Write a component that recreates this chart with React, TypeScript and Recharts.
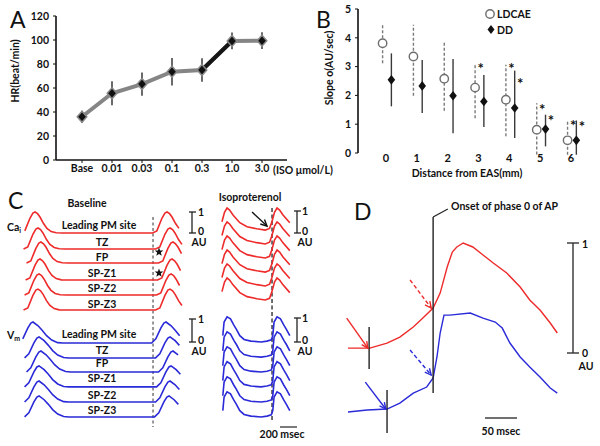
import React from 'react';
import { LineChart, Line, XAxis, YAxis, ErrorBar, ScatterChart, Scatter, ReferenceLine } from 'recharts';

const FONT = "Lato, 'Open Sans', sans-serif";
const RED = '#ee2a2a';
const BLUE = '#2a2ad8';

// ---------- Panel A ----------
const doseLabels = ['Base', '0.01', '0.03', '0.1', '0.3', '1.0', '3.0'];
const hrMean = [36, 55.6, 63.3, 73.6, 75, 99.2, 99.4];
const hrErr = [5, 10, 9.7, 11.5, 9.7, 7, 7];
const hrHighlight = ['0.3', '1.0'];
const hrTicks = [0, 20, 40, 60, 80, 100, 120];

// ---------- Panel B ----------
const distances = [0, 1, 2, 3, 4, 5, 6];
const ldcaeMean = [3.81, 3.35, 2.58, 2.27, 1.85, 0.81, 0.44];
const ldcaeHi = [4.45, 4.45, 3.87, 3.06, 3.06, 1.73, 1.1];
const ldcaeLo = [3.12, 1.99, 1.47, 1.21, 0.58, -0.05, -0.06];
const ddMean = [2.54, 2.33, 1.99, 1.79, 1.56, 0.83, 0.44];
const ddHi = [3.46, 3.23, 3.26, 2.71, 2.86, 1.33, 1.13];
const ddLo = [1.62, 1.39, 0.69, 0.9, 0.52, 0.23, -0.06];
const ldcaeStars = [[3, 3.0], [4, 3.0], [5, 1.56], [6, 1.0]];
const ddStars = [[4, 2.47], [5, 1.18], [6, 0.97]];
const slopeTicks = [0, 1, 2, 3, 4, 5];

// ---------- Panel C (time in ms, amplitude in AU) ----------
const caShape = [[-170, 0], [-120, 0.1], [-60, 0.7], [-25, 0.95], [0, 1], [30, 0.92], [60, 0.75], [100, 0.45], [140, 0.22], [190, 0.07], [250, 0.01], [320, 0]];
const vmShape = [[-170, 0], [-120, 0.2], [-60, 0.72], [-25, 0.95], [0, 1], [60, 0.82], [110, 0.6], [160, 0.35], [220, 0.14], [290, 0.02], [350, 0]];
const caIsoShape = [[-60, 0.4], [-30, 0.85], [0, 1.05], [30, 0.95], [70, 0.72], [150, 0.35], [235, 0.16], [350, 0.06], [450, 0], [500, 0.08]];
const vmIsoShape = [[-50, 0.3], [-35, 0.95], [0, 1.2], [40, 1.1], [80, 0.8], [110, 0.6], [150, 0.3], [200, 0.12], [280, 0.04], [400, 0], [470, 0.04], [520, 0.1]];
const caLeftBase = [9.62, 8.86, 8.19, 7.38, 6.67, 5.95];
const caLeftPeaks = [[412, 1965], [447, 2000], [482, 2035], [471, 2024], [459, 2012], [447, 2000]];
const vmLeftBase = [4.38, 3.67, 3.0, 2.29, 1.57, 0.86];
const vmLeftPeaks = [[388, 1953], [459, 2000], [482, 2035], [459, 2012], [459, 2000], [459, 1988]];
const caIsoBase = [9.76, 9.1, 8.43, 7.76, 7.1, 6.43];
const vmIsoBase = [4.43, 3.71, 3.0, 2.29, 1.57, 0.86];
const isoPeaks = [2671, 3259];
const leftWindow = [259, 2141];
const isoWindow = [2541, 3412];
const siteLabels = ['Leading PM site', 'TZ', 'FP', 'SP-Z1', 'SP-Z2', 'SP-Z3'];

// ---------- Panel D (time in ms, amplitude in AU) ----------
const dRedT = [75, 109, 136, 156, 177, 192, 208, 219, 230, 238, 245, 255, 270, 286, 302, 323, 344, 359, 375, 391, 402];
const dRedV = [0.045, 0.045, 0.09, 0.145, 0.236, 0.318, 0.409, 0.545, 0.782, 0.918, 0.964, 1.0, 0.964, 0.891, 0.818, 0.727, 0.6, 0.482, 0.391, 0.273, 0.182];
const dBlueT = [75, 105, 136, 156, 177, 198, 208, 214, 219, 225, 234, 266, 286, 305, 316, 328, 344, 359, 375, 391, 402];
const dBlueV = [-0.536, -0.518, -0.509, -0.455, -0.364, -0.309, -0.227, -0.036, 0.182, 0.345, 0.345, 0.364, 0.318, 0.282, 0.227, 0.091, -0.036, -0.127, -0.218, -0.318, -0.364];
const onsetT = 208;
const redFootT = 108;
const blueFootT = 136;

// ---------- derived tables ----------
const hrData = doseLabels.map((d, i) => ({
  dose: d,
  hr: hrMean[i],
  err: hrErr[i],
  seg: hrHighlight.includes(d) ? hrMean[i] : null,
}));
const ldcaeData = distances.map((x, i) => ({ x, y: ldcaeMean[i], e: [ldcaeMean[i] - ldcaeLo[i], ldcaeHi[i] - ldcaeMean[i]] }));
const ddData = distances.map((x, i) => ({ x, y: ddMean[i], e: [ddMean[i] - ddLo[i], ddHi[i] - ddMean[i]] }));
const ldcaeStarData = ldcaeStars.map(([x, y]) => ({ x, y }));
const ddStarData = ddStars.map(([x, y]) => ({ x, y }));
const tickAnchor = distances.map((x) => ({ x, y: 0 }));

const build = (shape: number[][], peaks: number[], base: number, win: number[]) =>
  peaks.flatMap((p) => shape.filter(([dt]) => p + dt >= win[0] && p + dt <= win[1]).map(([dt, a]) => ({ t: p + dt, v: base + a })));

const tracesC = [
  ...caLeftPeaks.map((pk, i) => ({ id: 'caL' + i, color: RED, pts: build(caShape, pk, caLeftBase[i], leftWindow) })),
  ...vmLeftPeaks.map((pk, i) => ({ id: 'vmL' + i, color: BLUE, pts: build(vmShape, pk, vmLeftBase[i], leftWindow) })),
  ...caIsoBase.map((b, i) => ({ id: 'caI' + i, color: RED, pts: build(caIsoShape, isoPeaks, b, isoWindow) })),
  ...vmIsoBase.map((b, i) => ({ id: 'vmI' + i, color: BLUE, pts: build(vmIsoShape, isoPeaks, b, isoWindow) })),
];
const dRed = dRedT.map((t, i) => ({ t, v: dRedV[i] }));
const dBlue = dBlueT.map((t, i) => ({ t, v: dBlueV[i] }));

// ---------- shapes ----------
const DiamondA = (p: any) => {
  const { cx, cy, index } = p;
  if (cx == null || cy == null) return <g key={'da' + index} />;
  return <path key={'da' + index} d={`M${cx},${cy - 5.5} L${cx + 4.8},${cy} L${cx},${cy + 5.5} L${cx - 4.8},${cy} Z`} fill="#111" stroke="#8a8a8a" strokeWidth={1.5} />;
};
const CircleB = (p: any) => <circle cx={p.cx} cy={p.cy} r={4.2} fill="#fff" stroke="#6d6d6d" strokeWidth={1.4} />;
const DiamondB = (p: any) => <path d={`M${p.cx},${p.cy - 4.8} L${p.cx + 3.8},${p.cy} L${p.cx},${p.cy + 4.8} L${p.cx - 3.8},${p.cy} Z`} fill="#111" />;
const StarB = (p: any) => (
  <text x={p.cx + 5.5} y={p.cy + 7} textAnchor="middle" fontSize={15} fontWeight={700} fontFamily={FONT} fill="#111">*</text>
);
const Empty = () => <g />;

const Arrow = (p: any) => {
  const { x1, y1, x2, y2, color, dashed } = p;
  const a = Math.atan2(y2 - y1, x2 - x1);
  const L = 7;
  const s = 0.45;
  const hx1 = x2 - L * Math.cos(a - s), hy1 = y2 - L * Math.sin(a - s);
  const hx2 = x2 - L * Math.cos(a + s), hy2 = y2 - L * Math.sin(a + s);
  return (
    <g>
      <line x1={x1} y1={y1} x2={x2} y2={y2} stroke={color} strokeWidth={1.4} strokeDasharray={dashed ? '4 2.5' : undefined} />
      <polyline points={`${hx1},${hy1} ${x2},${y2} ${hx2},${hy2}`} fill="none" stroke={color} strokeWidth={1.4} />
    </g>
  );
};

const starPoints = (cx: number, cy: number, R: number) => {
  const pts: string[] = [];
  for (let k = 0; k < 10; k++) {
    const r = k % 2 === 0 ? R : R * 0.42;
    const a = -Math.PI / 2 + (k * Math.PI) / 5;
    pts.push(`${cx + r * Math.cos(a)},${cy + r * Math.sin(a)}`);
  }
  return pts.join(' ');
};

const txt = { fontFamily: FONT, fontWeight: 700, fontSize: 10.5, fill: '#111' } as const;
const big = { fontFamily: FONT, fontWeight: 400, fontSize: 23, fill: '#111' } as const;

const ScaleBar = ({ x, y1, y2, lx, au }: { x: number; y1: number; y2: number; lx: number; au: number }) => (
  <g>
    <line x1={x} y1={y1} x2={x} y2={y2} stroke="#222" strokeWidth={1.3} />
    <line x1={x - 3} y1={y1} x2={x + 4} y2={y1} stroke="#222" strokeWidth={1.3} />
    <line x1={x - 3} y1={y2} x2={x + 4} y2={y2} stroke="#222" strokeWidth={1.3} />
    <text x={lx} y={y1 + 4} {...txt}>1</text>
    <text x={lx} y={y2 + 2} {...txt}>0</text>
    <text x={au} y={y2 + 13} {...txt} textAnchor="middle">AU</text>
  </g>
);

const bD0 = -0.908;
const bD1 = 6.78;

export default function App() {
  return (
    <div style={{ position: 'fixed', left: 0, top: 0, width: 600, height: 446, background: '#fff', overflow: 'hidden' }}>
      {/* Panel A */}
      <div style={{ position: 'absolute', left: 0, top: 0 }}>
        <LineChart width={300} height={185} data={hrData} margin={{ top: 16, right: 13, bottom: 0, left: 0 }}>
          <XAxis dataKey="dose" interval={0} padding={{ left: 26, right: 25 }} height={25}
            axisLine={{ stroke: '#111', strokeWidth: 1.6 }} tickLine={{ stroke: '#111' }} tickSize={3} tickMargin={2}
            tick={{ fill: '#111', fontSize: 10.5, fontWeight: 700, fontFamily: FONT }} />
          <YAxis domain={[0, 120]} ticks={hrTicks} width={56} interval={0}
            axisLine={{ stroke: '#111', strokeWidth: 1.6 }} tickLine={{ stroke: '#111' }} tickSize={3} tickMargin={4}
            tick={{ fill: '#111', fontSize: 10.5, fontWeight: 700, fontFamily: FONT }} />
          <Line dataKey="hr" stroke="#858585" strokeWidth={4} dot={false} isAnimationActive={false} />
          <Line dataKey="seg" stroke="#151515" strokeWidth={4} dot={false} isAnimationActive={false} />
          <Line dataKey="hr" stroke="none" dot={DiamondA} activeDot={false} isAnimationActive={false}>
            <ErrorBar dataKey="err" width={0} stroke="#2a2a2a" strokeWidth={1.4} direction="y" />
          </Line>
        </LineChart>
      </div>

      {/* Panel B */}
      <div style={{ position: 'absolute', left: 300, top: 0 }}>
        <ScatterChart width={300} height={185} margin={{ top: 9, right: 5, bottom: 0, left: 0 }}>
          <XAxis xAxisId="l" orientation="top" type="number" dataKey="x" domain={[bD0 + 0.11, bD1 + 0.11]} hide height={0} allowDataOverflow />
          <XAxis xAxisId="d" orientation="top" type="number" dataKey="x" domain={[bD0 - 0.175, bD1 - 0.175]} hide height={0} allowDataOverflow />
          <XAxis xAxisId="main" type="number" dataKey="x" domain={[bD0, bD1]} ticks={distances} interval={0} height={32}
            axisLine={false} tickLine={false} tickSize={0} tickMargin={1} allowDataOverflow
            tick={{ fill: '#111', fontSize: 11, fontWeight: 700, fontFamily: FONT }} />
          <YAxis type="number" dataKey="y" domain={[0, 5]} ticks={slopeTicks} width={58} interval={0} allowDataOverflow
            axisLine={{ stroke: '#111', strokeWidth: 1.6 }} tickLine={{ stroke: '#111' }} tickSize={3} tickMargin={4}
            tick={{ fill: '#111', fontSize: 10.5, fontWeight: 700, fontFamily: FONT }} />
          <Scatter xAxisId="main" data={tickAnchor} shape={Empty} isAnimationActive={false} />
          <Scatter xAxisId="l" data={ldcaeData} shape={CircleB} isAnimationActive={false}>
            <ErrorBar dataKey="e" direction="y" width={0} stroke="#7a7a7a" strokeWidth={1.4} strokeDasharray="3 2" />
          </Scatter>
          <Scatter xAxisId="d" data={ddData} shape={DiamondB} isAnimationActive={false}>
            <ErrorBar dataKey="e" direction="y" width={0} stroke="#3a3a3a" strokeWidth={1.4} />
          </Scatter>
          <Scatter xAxisId="l" data={ldcaeStarData} shape={StarB} isAnimationActive={false} />
          <Scatter xAxisId="d" data={ddStarData} shape={StarB} isAnimationActive={false} />
        </ScatterChart>
      </div>

      {/* Panel C */}
      <div style={{ position: 'absolute', left: 0, top: 195 }}>
        <LineChart width={300} height={240} margin={{ top: 0, right: 0, bottom: 0, left: 0 }}>
          <XAxis type="number" dataKey="t" domain={[0, 3529]} hide allowDataOverflow />
          <YAxis type="number" domain={[0, 11.43]} hide allowDataOverflow />
          <ReferenceLine ifOverflow="visible" segment={[{ x: 1800, y: 10.38 }, { x: 1800, y: 0.38 }]} stroke="#444" strokeWidth={1.1} strokeDasharray="3 2.5" />
          <ReferenceLine ifOverflow="visible" segment={[{ x: 3200, y: 10.81 }, { x: 3200, y: 0.71 }]} stroke="#222" strokeWidth={1.3} strokeDasharray="4 2.5" />
          {tracesC.map((tr) => (
            <Line key={tr.id} data={tr.pts} dataKey="v" stroke={tr.color} strokeWidth={1.6} dot={false} activeDot={false} isAnimationActive={false} />
          ))}
          <ReferenceLine ifOverflow="visible" segment={[{ x: 2965, y: 10.62 }, { x: 3141, y: 9.95 }]}
            shape={(p: any) => <Arrow {...p} color="#111" />} />
        </LineChart>
      </div>

      {/* Panel D */}
      <div style={{ position: 'absolute', left: 300, top: 200 }}>
        <LineChart width={300} height={246} margin={{ top: 0, right: 0, bottom: 0, left: 0 }}>
          <XAxis type="number" dataKey="t" domain={[0, 468.75]} hide allowDataOverflow />
          <YAxis type="number" domain={[-0.845, 1.391]} hide allowDataOverflow />
          <Line data={dRed} dataKey="v" stroke={RED} strokeWidth={1.4} dot={false} activeDot={false} isAnimationActive={false} />
          <Line data={dBlue} dataKey="v" stroke={BLUE} strokeWidth={1.4} dot={false} activeDot={false} isAnimationActive={false} />
          <ReferenceLine ifOverflow="visible" segment={[{ x: onsetT, y: 1.236 }, { x: onsetT, y: -0.364 }]} stroke="#222" strokeWidth={1.4} />
          <ReferenceLine ifOverflow="visible" segment={[{ x: onsetT, y: 1.236 }, { x: 231, y: 1.309 }]} stroke="#222" strokeWidth={1.2} />
          <ReferenceLine ifOverflow="visible" segment={[{ x: redFootT, y: 0.236 }, { x: redFootT, y: -0.145 }]} stroke="#222" strokeWidth={1.4} />
          <ReferenceLine ifOverflow="visible" segment={[{ x: blueFootT, y: -0.336 }, { x: blueFootT, y: -0.727 }]} stroke="#222" strokeWidth={1.4} />
          <ReferenceLine ifOverflow="visible" segment={[{ x: 73, y: 0.318 }, { x: 106, y: 0.045 }]} shape={(p: any) => <Arrow {...p} color={RED} />} />
          <ReferenceLine ifOverflow="visible" segment={[{ x: 172, y: 0.664 }, { x: 205, y: 0.409 }]} shape={(p: any) => <Arrow {...p} color={RED} dashed />} />
          <ReferenceLine ifOverflow="visible" segment={[{ x: 102, y: -0.264 }, { x: 134, y: -0.509 }]} shape={(p: any) => <Arrow {...p} color={BLUE} />} />
          <ReferenceLine ifOverflow="visible" segment={[{ x: 172, y: 0.027 }, { x: 205, y: -0.2 }]} shape={(p: any) => <Arrow {...p} color={BLUE} dashed />} />
        </LineChart>
      </div>

      {/* Text & scale bar overlay */}
      <svg width={600} height={446} style={{ position: 'absolute', left: 0, top: 0, pointerEvents: 'none' }}>
        {/* A */}
        <text x={10} y={28} {...big}>A</text>
        <text transform="translate(19,71) rotate(-90)" textAnchor="middle" {...txt}>HR(beat/min)</text>
        <text x={273} y={174} {...txt}>(ISO μmol/L)</text>
        {/* B */}
        <text x={316} y={28} {...big}>B</text>
        <text transform="translate(333,68) rotate(-90)" textAnchor="middle" {...txt}>Slope o(AU/sec)</text>
        <text x={467} y={177} textAnchor="middle" {...txt}>Distance from EAS(mm)</text>
        <circle cx={490} cy={14} r={4.2} fill="#fff" stroke="#6d6d6d" strokeWidth={1.4} />
        <text x={497} y={18} {...txt}>LDCAE</text>
        <path d="M491,25 L494.5,29.5 L491,34 L487.5,29.5 Z" fill="#111" />
        <text x={497} y={34} {...txt}>DD</text>
        {/* C */}
        <text x={8} y={209} {...big}>C</text>
        <text x={87} y={207} textAnchor="middle" {...txt}>Baseline</text>
        <text x={250} y={201} textAnchor="middle" {...txt}>Isoproterenol</text>
        <text x={7} y={231} {...txt}>Ca<tspan fontSize={7} dy={2}>i</tspan></text>
        <text x={7} y={339} {...txt}>V<tspan fontSize={7} dy={2}>m</tspan></text>
        {siteLabels.map((s, i) => (
          <text key={'ca' + s} x={i === 0 ? 99 : 102} y={[229, 246, 261, 277, 292, 308][i]} textAnchor="middle" {...txt}>{s}</text>
        ))}
        {siteLabels.map((s, i) => (
          <text key={'vm' + s} x={i === 0 ? 99 : 102} y={[338, 354, 367, 382, 399, 414][i]} textAnchor="middle" {...txt}>{s}</text>
        ))}
        <polygon points={starPoints(159, 252, 4.6)} fill="#111" />
        <polygon points={starPoints(159, 273, 4.6)} fill="#111" />
        <ScaleBar x={192} y1={212} y2={233} lx={198} au={199} />
        <ScaleBar x={192} y1={319} y2={342} lx={198} au={199} />
        <ScaleBar x={297} y1={211} y2={233} lx={302} au={305} />
        <ScaleBar x={297} y1={318} y2={342} lx={302} au={305} />
        <line x1={280} y1={427} x2={297} y2={427} stroke="#333" strokeWidth={1.3} />
        <text x={282} y={438} textAnchor="middle" {...txt}>200 msec</text>
        {/* D */}
        <text x={354} y={220} {...big}>D</text>
        <text x={451} y={210} {...txt}>Onset of phase 0 of AP</text>
        <line x1={573} y1={243} x2={573} y2={353} stroke="#333" strokeWidth={1.4} />
        <line x1={567} y1={243} x2={579} y2={243} stroke="#333" strokeWidth={1.4} />
        <line x1={567} y1={353} x2={579} y2={353} stroke="#333" strokeWidth={1.4} />
        <text x={582} y={248} {...txt}>1</text>
        <text x={582} y={357} {...txt}>0</text>
        <text x={586} y={370} textAnchor="middle" {...txt}>AU</text>
        <line x1={485} y1={418} x2={517} y2={418} stroke="#333" strokeWidth={1.4} />
        <text x={501} y={435} textAnchor="middle" {...txt}>50 msec</text>
      </svg>
    </div>
  );
}
